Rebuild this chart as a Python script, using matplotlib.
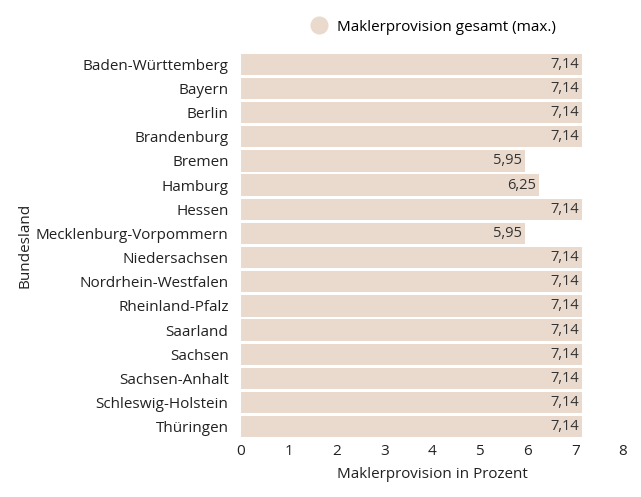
import matplotlib
matplotlib.use("Agg")
import matplotlib.pyplot as plt
from matplotlib.lines import Line2D

plt.rcParams["font.family"] = "Open Sans"

states = ["Baden-Württemberg", "Bayern", "Berlin", "Brandenburg", "Bremen", "Hamburg",
          "Hessen", "Mecklenburg-Vorpommern", "Niedersachsen", "Nordrhein-Westfalen",
          "Rheinland-Pfalz", "Saarland", "Sachsen", "Sachsen-Anhalt", "Schleswig-Holstein",
          "Thüringen"]
values = [7.14, 7.14, 7.14, 7.14, 5.95, 6.25, 7.14, 5.95, 7.14, 7.14, 7.14, 7.14, 7.14,
          7.14, 7.14, 7.14]
series_name = "Maklerprovision gesamt (max.)"
color = "#e9dacd"

fig = plt.figure(figsize=(6.41, 4.97), dpi=100)
ax = fig.add_axes([0.376, 0.117, 0.596, 0.778])
y = list(range(len(states)))
ax.barh(y, values, height=0.88, color=color)
for yi, v in zip(y, values):
    ax.text(v - 0.07, yi, f"{v:.2f}".replace(".", ","), ha="right", va="center",
            fontsize=10.5, color="#333333")
ax.set_yticks(y)
ax.set_yticklabels(states, fontsize=11, color="#222222")
ax.set_ylim(len(states) - 0.5, -0.5)
ax.set_xlim(0, 8)
ax.set_xticks(range(9))
ax.tick_params(axis="x", labelsize=11, length=0, colors="#222222")
ax.tick_params(axis="y", length=0, pad=9)
for s in ax.spines.values():
    s.set_visible(False)
ax.set_xlabel("Maklerprovision in Prozent", fontsize=11, color="#222222", labelpad=6)
ax.set_ylabel("Bundesland", fontsize=11, color="#222222", labelpad=2)
handle = Line2D([], [], marker="o", color="none", markerfacecolor=color,
                markeredgecolor=color, markersize=12)
fig.legend([handle], [series_name], loc="center", bbox_to_anchor=(0.67, 0.945),
           frameon=False, fontsize=11, handletextpad=0.2)
fig.savefig("out.png", dpi=100, facecolor="white")
